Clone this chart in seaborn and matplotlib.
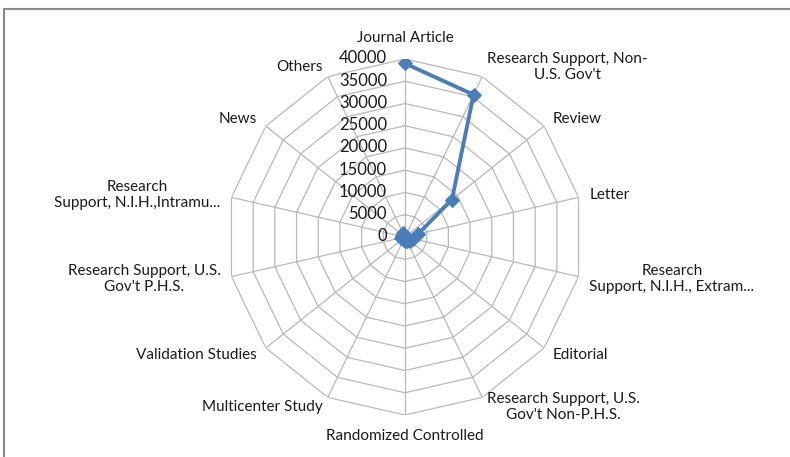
import numpy as np
import matplotlib
matplotlib.use("Agg")
import matplotlib.pyplot as plt
import seaborn as sns
from matplotlib.patches import Rectangle

categories = [
    "Journal Article",
    "Research Support, Non-\nU.S. Gov't",
    "Review",
    "Letter",
    "Research\nSupport, N.I.H., Extram...",
    "Editorial",
    "Research Support, U.S.\nGov't Non-P.H.S.",
    "Randomized Controlled",
    "Multicenter Study",
    "Validation Studies",
    "Research Support, U.S.\nGov't P.H.S.",
    "Research\nSupport, N.I.H.,Intramu...",
    "News",
    "Others",
]
values = [39000, 35500, 13500, 3000, 1800, 1500, 1000, 800, 700, 600, 1000, 800, 600, 900]
rticks = [0, 5000, 10000, 15000, 20000, 25000, 30000, 35000, 40000]
rtick_labels = ["0", "5000", "10000", "15000", "20000", "25000", "30000", "35000", "40000"]

sns.set_theme(style="white")
plt.rcParams["font.family"] = ["Lato", "DejaVu Sans"]

W, H, DPI = 790, 457, 100
fig = plt.figure(figsize=(W / DPI, H / DPI), dpi=DPI)
cx, cy, R = 405, 237, 178
ax = fig.add_axes([(cx - R) / W, (H - cy - R) / H, 2 * R / W, 2 * R / H], projection="polar")
ax.set_theta_zero_location("N")
ax.set_theta_direction(-1)
ax.set_ylim(0, rticks[-1])
ax.spines["polar"].set_visible(False)
ax.set_facecolor("none")

n = len(categories)
theta = np.arange(n) * 2 * np.pi / n
ax.set_xticks(theta)
ax.set_xticklabels([])
ax.set_yticks([])
ax.xaxis.grid(True, color="#b8b8b8", linewidth=0.9)
ax.yaxis.grid(False)

# polygon rings
tc = np.append(theta, theta[0])
for r in rticks[1:]:
    ax.plot(tc, np.full(len(tc), r), color="#b8b8b8", linewidth=0.9, zorder=1)

# data series
vc = np.append(values, values[0])
sns.lineplot(x=tc, y=vc, sort=False, ax=ax, color="#4a7ebb", linewidth=2.8,
             marker="D", markersize=7, markeredgecolor="#4a7ebb", zorder=3, legend=False)

# radial tick labels
for r, lab in zip(rticks, rtick_labels):
    ax.annotate(lab, xy=(0, r), xytext=(-13, 0.5), textcoords="offset points",
                ha="right", va="center", fontsize=12, color="#1a1a1a")

# category labels
pad = 8
for t, lab in zip(theta, categories):
    s, c = np.sin(t), np.cos(t)
    if abs(s) < 0.1:
        ha = "center"
        va = "bottom" if c > 0 else "top"
        off = 10
    else:
        ha = "left" if s > 0 else "right"
        va = "center"
        off = pad
    ax.annotate(lab, xy=(t, rticks[-1]), xytext=(off * s, off * c), textcoords="offset points",
                ha=ha, va=va, ma="center", fontsize=11, color="#1a1a1a", linespacing=1.2)

fig.patches.append(Rectangle((4 / W, -0.1), 1.2, (H - 9) / H + 0.1, transform=fig.transFigure,
                             fill=False, edgecolor="#8a8a8a", linewidth=1.5))

fig.savefig("out.png", dpi=DPI)
